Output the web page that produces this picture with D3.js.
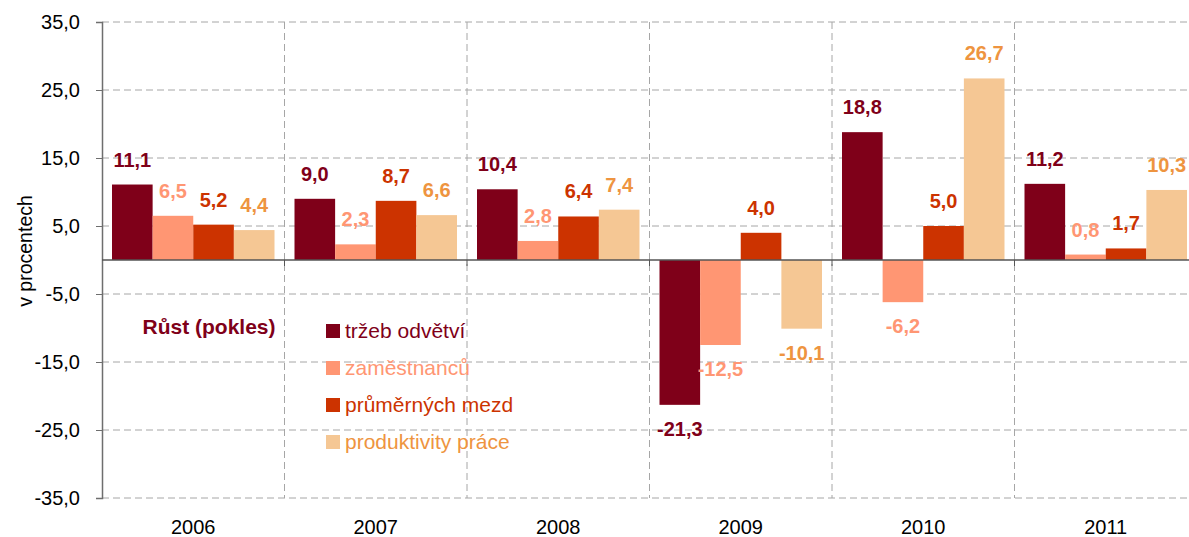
<!DOCTYPE html>
<html lang="cs">
<head>
    <meta charset="UTF-8">
    <title>Růst (pokles)</title>
    <script src="https://d3js.org/d3.v7.min.js"></script>
    <style>
        body, html { margin: 0; padding: 0; background: #fff; }
        svg { display: block; font-family: Arial, "Liberation Sans", sans-serif; }
    </style>
</head>
<body>
    <script>
        // Data
        const years = ["2006", "2007", "2008", "2009", "2010", "2011"];
        const seriesNames = ["tržeb odvětví", "zaměstnanců", "průměrných mezd", "produktivity práce"];
        const trzby = [11.1, 9.0, 10.4, -21.3, 18.8, 11.2];
        const zamestnanci = [6.5, 2.3, 2.8, -12.5, -6.2, 0.8];
        const mzdy = [5.2, 8.7, 6.4, 4.0, 5.0, 1.7];
        const produktivita = [4.4, 6.6, 7.4, -10.1, 26.7, 10.3];
        const yTicks = [-35, -25, -15, -5, 5, 15, 25, 35];

        const seriesValues = [trzby, zamestnanci, mzdy, produktivita];
        const barColors = ["#7F0019", "#FF9673", "#CC3300", "#F5C794"];
        const textColors = ["#7F0019", "#FF9673", "#CC3300", "#EE9440"];

        const width = 1189, height = 537;
        const margin = { top: 22, right: -8, bottom: 39, left: 102 };

        const svg = d3.select("body").append("svg")
            .attr("width", width)
            .attr("height", height);

        const x0 = d3.scaleBand()
            .domain(years)
            .range([margin.left, width - margin.right]);

        const x1 = d3.scaleBand()
            .domain(seriesNames)
            .range([10, x0.bandwidth() - 10]);

        const y = d3.scaleLinear()
            .domain([-35, 35])
            .range([height - margin.bottom, margin.top]);

        const fmt = v => d3.format(".1f")(v).replace(".", ",").replace("−", "-");

        // horizontal gridlines
        svg.append("g")
            .selectAll("line")
            .data(yTicks)
            .join("line")
            .attr("x1", margin.left)
            .attr("x2", width)
            .attr("y1", d => y(d))
            .attr("y2", d => y(d))
            .attr("stroke", "#A6A6A6")
            .attr("stroke-dasharray", "7,4");

        // vertical gridlines at category boundaries
        svg.append("g")
            .selectAll("line")
            .data(years.slice(1))
            .join("line")
            .attr("x1", d => x0(d))
            .attr("x2", d => x0(d))
            .attr("y1", y(35))
            .attr("y2", y(-35))
            .attr("stroke", "#A6A6A6")
            .attr("stroke-dasharray", "7,4");

        // bars
        const flat = [];
        years.forEach((yr, i) => {
            seriesNames.forEach((s, j) => {
                flat.push({ year: yr, series: s, idx: j, value: seriesValues[j][i] });
            });
        });

        svg.append("g")
            .selectAll("rect")
            .data(flat)
            .join("rect")
            .attr("x", d => x0(d.year) + x1(d.series))
            .attr("width", x1.bandwidth())
            .attr("y", d => y(Math.max(0, d.value)))
            .attr("height", d => Math.abs(y(d.value) - y(0)))
            .attr("fill", d => barColors[d.idx]);

        // value labels
        svg.append("g")
            .selectAll("text")
            .data(flat)
            .join("text")
            .attr("x", d => x0(d.year) + x1(d.series) + x1.bandwidth() / 2)
            .attr("y", d => d.value >= 0 ? y(d.value) - 18 : y(d.value) + 31)
            .attr("text-anchor", "middle")
            .attr("font-size", "20px")
            .attr("font-weight", "bold")
            .attr("fill", d => textColors[d.idx])
            .text(d => fmt(d.value));

        // y axis
        const yAxis = d3.axisLeft(y)
            .tickValues(yTicks)
            .tickSize(6)
            .tickFormat(fmt);
        const gy = svg.append("g")
            .attr("transform", `translate(${margin.left},0)`)
            .call(yAxis);
        gy.select(".domain").attr("stroke", "#6E6E6E").attr("stroke-width", 1.5);
        gy.selectAll(".tick line").attr("stroke", "#6E6E6E");
        gy.selectAll(".tick text")
            .attr("font-size", "20px")
            .attr("font-family", "Arial, 'Liberation Sans', sans-serif")
            .attr("fill", "#000")
            .attr("x", -22);

        // zero line with category ticks
        svg.append("line")
            .attr("x1", margin.left)
            .attr("x2", width)
            .attr("y1", y(0))
            .attr("y2", y(0))
            .attr("stroke", "#555")
            .attr("stroke-width", 1.5);
        svg.append("g")
            .selectAll("line")
            .data(years.slice(1))
            .join("line")
            .attr("x1", d => x0(d))
            .attr("x2", d => x0(d))
            .attr("y1", y(0))
            .attr("y2", y(0) + 6)
            .attr("stroke", "#555");

        // category labels
        svg.append("g")
            .selectAll("text")
            .data(years)
            .join("text")
            .attr("x", d => x0(d) + x0.bandwidth() / 2)
            .attr("y", height - 3)
            .attr("text-anchor", "middle")
            .attr("font-size", "20px")
            .attr("fill", "#000")
            .text(d => d);

        // y axis title
        svg.append("text")
            .attr("transform", "translate(32,251) rotate(-90)")
            .attr("text-anchor", "middle")
            .attr("font-size", "19.5px")
            .attr("fill", "#000")
            .text("v procentech");

        // legend
        svg.append("text")
            .attr("x", 209)
            .attr("y", 334)
            .attr("text-anchor", "middle")
            .attr("font-size", "21px")
            .attr("font-weight", "bold")
            .attr("fill", "#7F0019")
            .text("Růst (pokles)");

        const legend = svg.append("g")
            .selectAll("g")
            .data(seriesNames)
            .join("g")
            .attr("transform", (d, i) => `translate(326,${324 + i * 37})`);
        legend.append("rect")
            .attr("width", 14)
            .attr("height", 14)
            .attr("fill", (d, i) => barColors[i]);
        legend.append("text")
            .attr("x", 19)
            .attr("y", 14)
            .attr("font-size", "21px")
            .attr("fill", (d, i) => textColors[i])
            .text(d => d);
    </script>
</body>
</html>
